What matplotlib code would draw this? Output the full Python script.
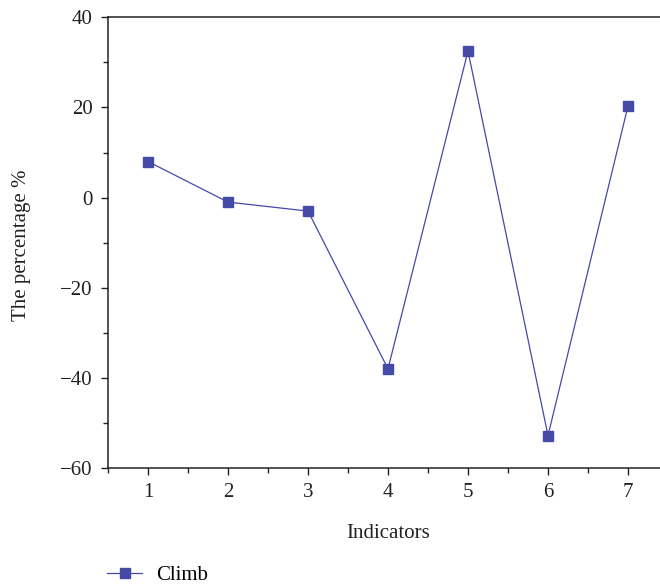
import matplotlib
matplotlib.use("Agg")
import matplotlib.pyplot as plt
from matplotlib.ticker import MultipleLocator

indicators = [1, 2, 3, 4, 5, 6, 7]
climb = [8.0, -1.0, -3.0, -38.0, 32.5, -52.8, 20.3]
y_ticks = [-60, -40, -20, 0, 20, 40]

plt.rcParams['font.family'] = ['Liberation Serif', 'DejaVu Serif']
color = '#4549a8'
fs = 15

fig = plt.figure(figsize=(6.6, 5.88), dpi=100)
W, H = 660, 588
ax = fig.add_axes([108 / W, 1 - 468 / H, 560 / W, (468 - 17.3) / H])
ax.plot(indicators, climb, color=color, lw=0.9, marker='s', markersize=7.2,
        markerfacecolor=color, markeredgecolor=color, label='Climb')
ax.set_xlim(0.5, 7.5)
ax.set_ylim(-60, 40)
ax.set_xticks(indicators)
ax.set_yticks(y_ticks)
ax.set_yticklabels(['\u221260', '\u221240', '\u221220', '0', '20', '40'])
ax.xaxis.set_minor_locator(MultipleLocator(0.5))
ax.yaxis.set_minor_locator(MultipleLocator(10))
ax.spines['right'].set_visible(False)
for s in ['left', 'bottom', 'top']:
    ax.spines[s].set_color('#222222')
    ax.spines[s].set_linewidth(1.1)
ax.tick_params(which='major', direction='out', length=5, width=1, colors='#222222',
               labelsize=fs, pad=6)
ax.tick_params(which='minor', direction='out', length=3.4, width=1, colors='#222222')
ax.tick_params(top=False, which='both')
ax.set_xlabel('Indicators', fontsize=fs, labelpad=16, color='#222222')
fig.text(22 / W, 1 - 245 / H, 'The percentage %', rotation=90,
         ha='center', va='center', fontsize=fs, color='#222222')
fig.legend(loc='center left', bbox_to_anchor=(107 / W, 1 - 575 / H), frameon=False,
           fontsize=fs, handlelength=1.7, handletextpad=0.65, borderaxespad=0,
           borderpad=0)
fig.savefig('out.png', dpi=100)
